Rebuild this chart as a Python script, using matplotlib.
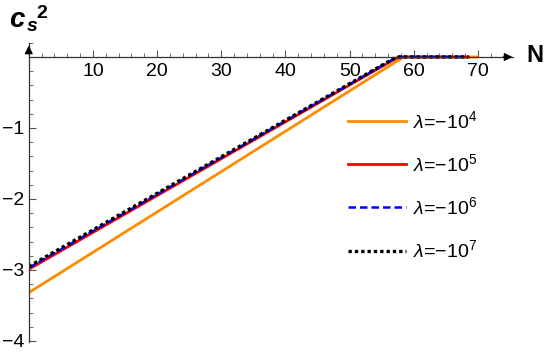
import matplotlib
matplotlib.use("Agg")
import matplotlib.pyplot as plt
from matplotlib.ticker import MultipleLocator

plt.rcParams['font.family'] = ['Liberation Sans', 'DejaVu Sans']
plt.rcParams['mathtext.fontset'] = 'custom'
plt.rcParams['mathtext.rm'] = 'Liberation Sans'
plt.rcParams['mathtext.it'] = 'Liberation Sans:italic'

# data
labels = [r'$\lambda$=−10$^4$', r'$\lambda$=−10$^5$', r'$\lambda$=−10$^6$', r'$\lambda$=−10$^7$']
N_orange = [0, 58.4, 69.8]
cs2_orange = [-3.32, 0, 0]
N_red = [0, 57.6, 68.5]
cs2_red = [-2.99, 0, 0]
N_blue = [0, 57.4, 68.5]
cs2_blue = [-2.97, 0, 0]
N_black = [0, 57.3, 68.5]
cs2_black = [-2.95, 0, 0]
x_major = [10, 20, 30, 40, 50, 60, 70]
y_major = [-1, -2, -3, -4]

fig = plt.figure(figsize=(5.45, 3.55), dpi=100)
ax = fig.add_axes([0.0528, 0.0355, 0.889, 0.844])
ax.set_xlim(0, 75.5)
ax.set_ylim(-4.02, 0.2)

ax.plot(N_orange, cs2_orange, color='#FF8C00', lw=2.0, label=labels[0])
ax.plot(N_red, cs2_red, color='#FF0000', lw=2.0, label=labels[1])
ax.plot(N_blue, cs2_blue, color='#0000FF', lw=1.8, ls=(0, (3, 1.6)), label=labels[2])
ax.plot(N_black, cs2_black, color='black', lw=2.4, ls=(0, (1.0, 0.9)), label=labels[3])

for s in ['top', 'right']:
    ax.spines[s].set_visible(False)
ax.spines['bottom'].set_position(('data', 0))
ax.spines['left'].set_position(('data', 0))
ax.spines['bottom'].set_color('#333333')
ax.spines['left'].set_color('#333333')
ax.spines['bottom'].set_linewidth(0.9)
ax.spines['left'].set_linewidth(0.9)

ax.set_xticks(x_major)
ax.set_xticklabels([str(v) for v in x_major])
ax.xaxis.set_minor_locator(MultipleLocator(2))
ax.set_yticks(y_major)
ax.set_yticklabels(['−' + str(-v) for v in y_major])
ax.yaxis.set_minor_locator(MultipleLocator(0.2))
ax.tick_params(which='major', direction='in', length=5, width=0.8, labelsize=14, color='#555555')
ax.tick_params(which='minor', direction='in', length=3, width=0.6, color='#555555')
ax.tick_params(axis='x', pad=4)
ax.tick_params(axis='y', pad=3)

# arrow heads
ax.annotate('', xy=(75.8, 0), xytext=(73.5, 0),
            arrowprops=dict(arrowstyle='-|>', color='black', lw=0.9, mutation_scale=12),
            annotation_clip=False)
ax.annotate('', xy=(0, 0.2), xytext=(0, 0.0),
            arrowprops=dict(arrowstyle='-|>', color='black', lw=0.9, mutation_scale=12),
            annotation_clip=False)

# axis labels
fig.text(526 / 545, 1 - 55 / 355, 'N', fontsize=17, fontweight='bold', va='center', ha='left')
fig.text(9 / 545, 1 - 27 / 355, 'c', fontsize=20, fontweight='bold', style='italic', va='baseline', ha='left')
fig.text(27 / 545, 1 - 31 / 355, 's', fontsize=14, fontweight='bold', style='italic', va='baseline', ha='left')
fig.text(36 / 545, 1 - 18 / 355, '2', fontsize=14, fontweight='bold', va='baseline', ha='left')

leg = ax.legend(loc='upper left', bbox_to_anchor=(338 / 545, 1 - 100 / 355),
                bbox_transform=fig.transFigure, frameon=False, fontsize=14,
                handlelength=3.0, handletextpad=0.35, labelspacing=1.1, borderpad=0)

fig.savefig('out.png', dpi=100)
